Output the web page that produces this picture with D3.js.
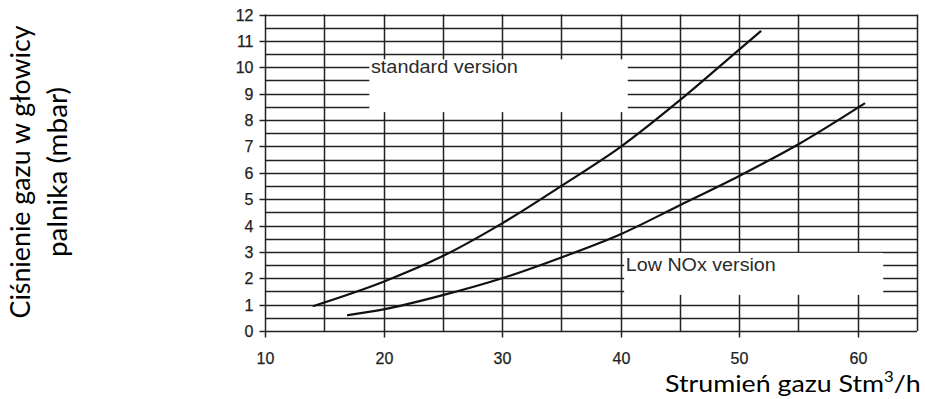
<!DOCTYPE html>
<html>
<head>
<meta charset="utf-8">
<script src="https://cdn.jsdelivr.net/npm/d3@7"></script>
<style>
  html, body { margin: 0; padding: 0; background: #fff; }
  svg { display: block; }
</style>
</head>
<body>
<svg id="chart" width="925" height="399"></svg>
<script>
// ---- data ----
const xTickValues = [10, 20, 30, 40, 50, 60];
const yTickValues = [0, 1, 2, 3, 4, 5, 6, 7, 8, 9, 10, 11, 12];
const standardFlow = [14.1, 20, 25, 30, 35, 40, 45, 50, 51.8];
const standardPressure = [0.95, 1.87, 2.84, 4.08, 5.5, 6.98, 8.75, 10.67, 11.36];
const lowNoxFlow = [17, 20, 25, 30, 35, 40, 45, 50, 55, 60.55];
const lowNoxPressure = [0.6, 0.82, 1.36, 2.0, 2.79, 3.67, 4.77, 5.88, 7.08, 8.62];
const seriesLabels = ["standard version", "Low NOx version"];
const yTitleLines = ["Ciśnienie gazu w głowicy", "palnika (mbar)"];
const xTitleParts = ["Strumień gazu Stm", "3", "/h"];

// ---- drawing ----
const svg = d3.select("#chart");
const x = d3.scaleLinear().domain([10, 65]).range([265, 917]);
const y = d3.scaleLinear().domain([0, 12]).range([331, 14.5]);
const ink = "#222";
const r = v => Math.round(v) + 0.5;

// grid
const grid = svg.append("g").attr("stroke", ink).attr("stroke-width", 1.5);
grid.selectAll("line.h").data(d3.range(0, 12.01, 0.5)).join("line")
  .attr("x1", x(10)).attr("x2", x(65)).attr("y1", d => r(y(d))).attr("y2", d => r(y(d)));
grid.selectAll("line.v").data(d3.range(10, 65.01, 5)).join("line")
  .attr("y1", y(0)).attr("y2", y(12)).attr("x1", d => r(x(d))).attr("x2", d => r(x(d)));

// white label boxes (cover grid)
const boxes = [
  {x0: 18.8, x1: 40.6, y0: 10.3, y1: 8.3},
  {x0: 40.3, x1: 62.15, y0: 2.96, y1: 1.37}
];
svg.append("g").selectAll("rect").data(boxes).join("rect")
  .attr("x", d => x(d.x0)).attr("y", d => y(d.y0))
  .attr("width", d => x(d.x1) - x(d.x0)).attr("height", d => y(d.y1) - y(d.y0))
  .attr("fill", "#fff");

// axes
const yAxis = svg.append("g").attr("transform", `translate(${r(x(10))},0)`)
  .call(d3.axisLeft(y).tickValues(yTickValues).tickSize(6).tickPadding(6).tickSizeOuter(0));
const xAxis = svg.append("g").attr("transform", `translate(0,${r(y(0))})`)
  .call(d3.axisBottom(x).tickValues(xTickValues).tickSize(6).tickPadding(15).tickSizeOuter(0));
[yAxis, xAxis].forEach(a => {
  a.attr("font-size", null).attr("font-family", null);
  a.select(".domain").remove();
  a.selectAll("line").attr("stroke", ink).attr("stroke-width", 1.5);
  a.selectAll("text")
    .style("font-family", "'Liberation Sans', Arial, sans-serif")
    .style("font-size", "16px").attr("fill", ink)
    .attr("stroke", ink).attr("stroke-width", 0.25);
});
yAxis.selectAll(".tick").attr("transform", d => `translate(0,${r(y(d))})`);
xAxis.selectAll(".tick").attr("transform", d => `translate(${r(x(d))},0)`);

// curves
const line = d3.line().x(d => x(d[0])).y(d => y(d[1])).curve(d3.curveMonotoneX);
const series = [
  d3.zip(standardFlow, standardPressure),
  d3.zip(lowNoxFlow, lowNoxPressure)
];
svg.append("g").selectAll("path").data(series).join("path")
  .attr("d", line).attr("fill", "none").attr("stroke", "#111")
  .attr("stroke-width", 2.2).attr("stroke-linecap", "round");

// series labels
const labelPos = [{fx: 18.85, fy: 10, w: 147}, {fx: 40.35, fy: 2.5, w: 150}];
svg.append("g").selectAll("text").data(seriesLabels).join("text")
  .attr("x", (d, i) => x(labelPos[i].fx) + 1)
  .attr("y", (d, i) => y(labelPos[i].fy) + 6)
  .style("font-family", "'Liberation Sans', Arial, sans-serif")
  .style("font-size", "17.5px").attr("fill", "#2a2a2a")
  .attr("textLength", (d, i) => labelPos[i].w).attr("lengthAdjust", "spacingAndGlyphs")
  .text(d => d);

// y title
const titleFont = "Lato, 'Open Sans', sans-serif";
const yTitle = svg.append("g");
const yLens = [293, 170];
const yBase = [30, 66.5];
yTitleLines.forEach((t, i) => {
  yTitle.append("text")
    .attr("transform", `translate(${yBase[i]},172) rotate(-90)`)
    .attr("text-anchor", "middle")
    .style("font-family", titleFont).style("font-size", "26px").attr("fill", "#000")
    .attr("textLength", yLens[i]).attr("lengthAdjust", "spacingAndGlyphs")
    .text(t);
});

// x title with superscript
const xt = svg.append("g");
const xText = xt.append("text")
  .style("font-family", titleFont).style("font-size", "24px").attr("fill", "#000");
xText.append("tspan").text(xTitleParts[0]);
xText.append("tspan").style("font-size", "15px").attr("dy", -10).text(xTitleParts[1]);
xText.append("tspan").attr("dy", 10).text(xTitleParts[2]);
const w = xText.node().getComputedTextLength();
const sx = 256 / w;
xt.attr("transform", `translate(665,391.5) scale(${sx},1)`);
</script>
</body>
</html>
